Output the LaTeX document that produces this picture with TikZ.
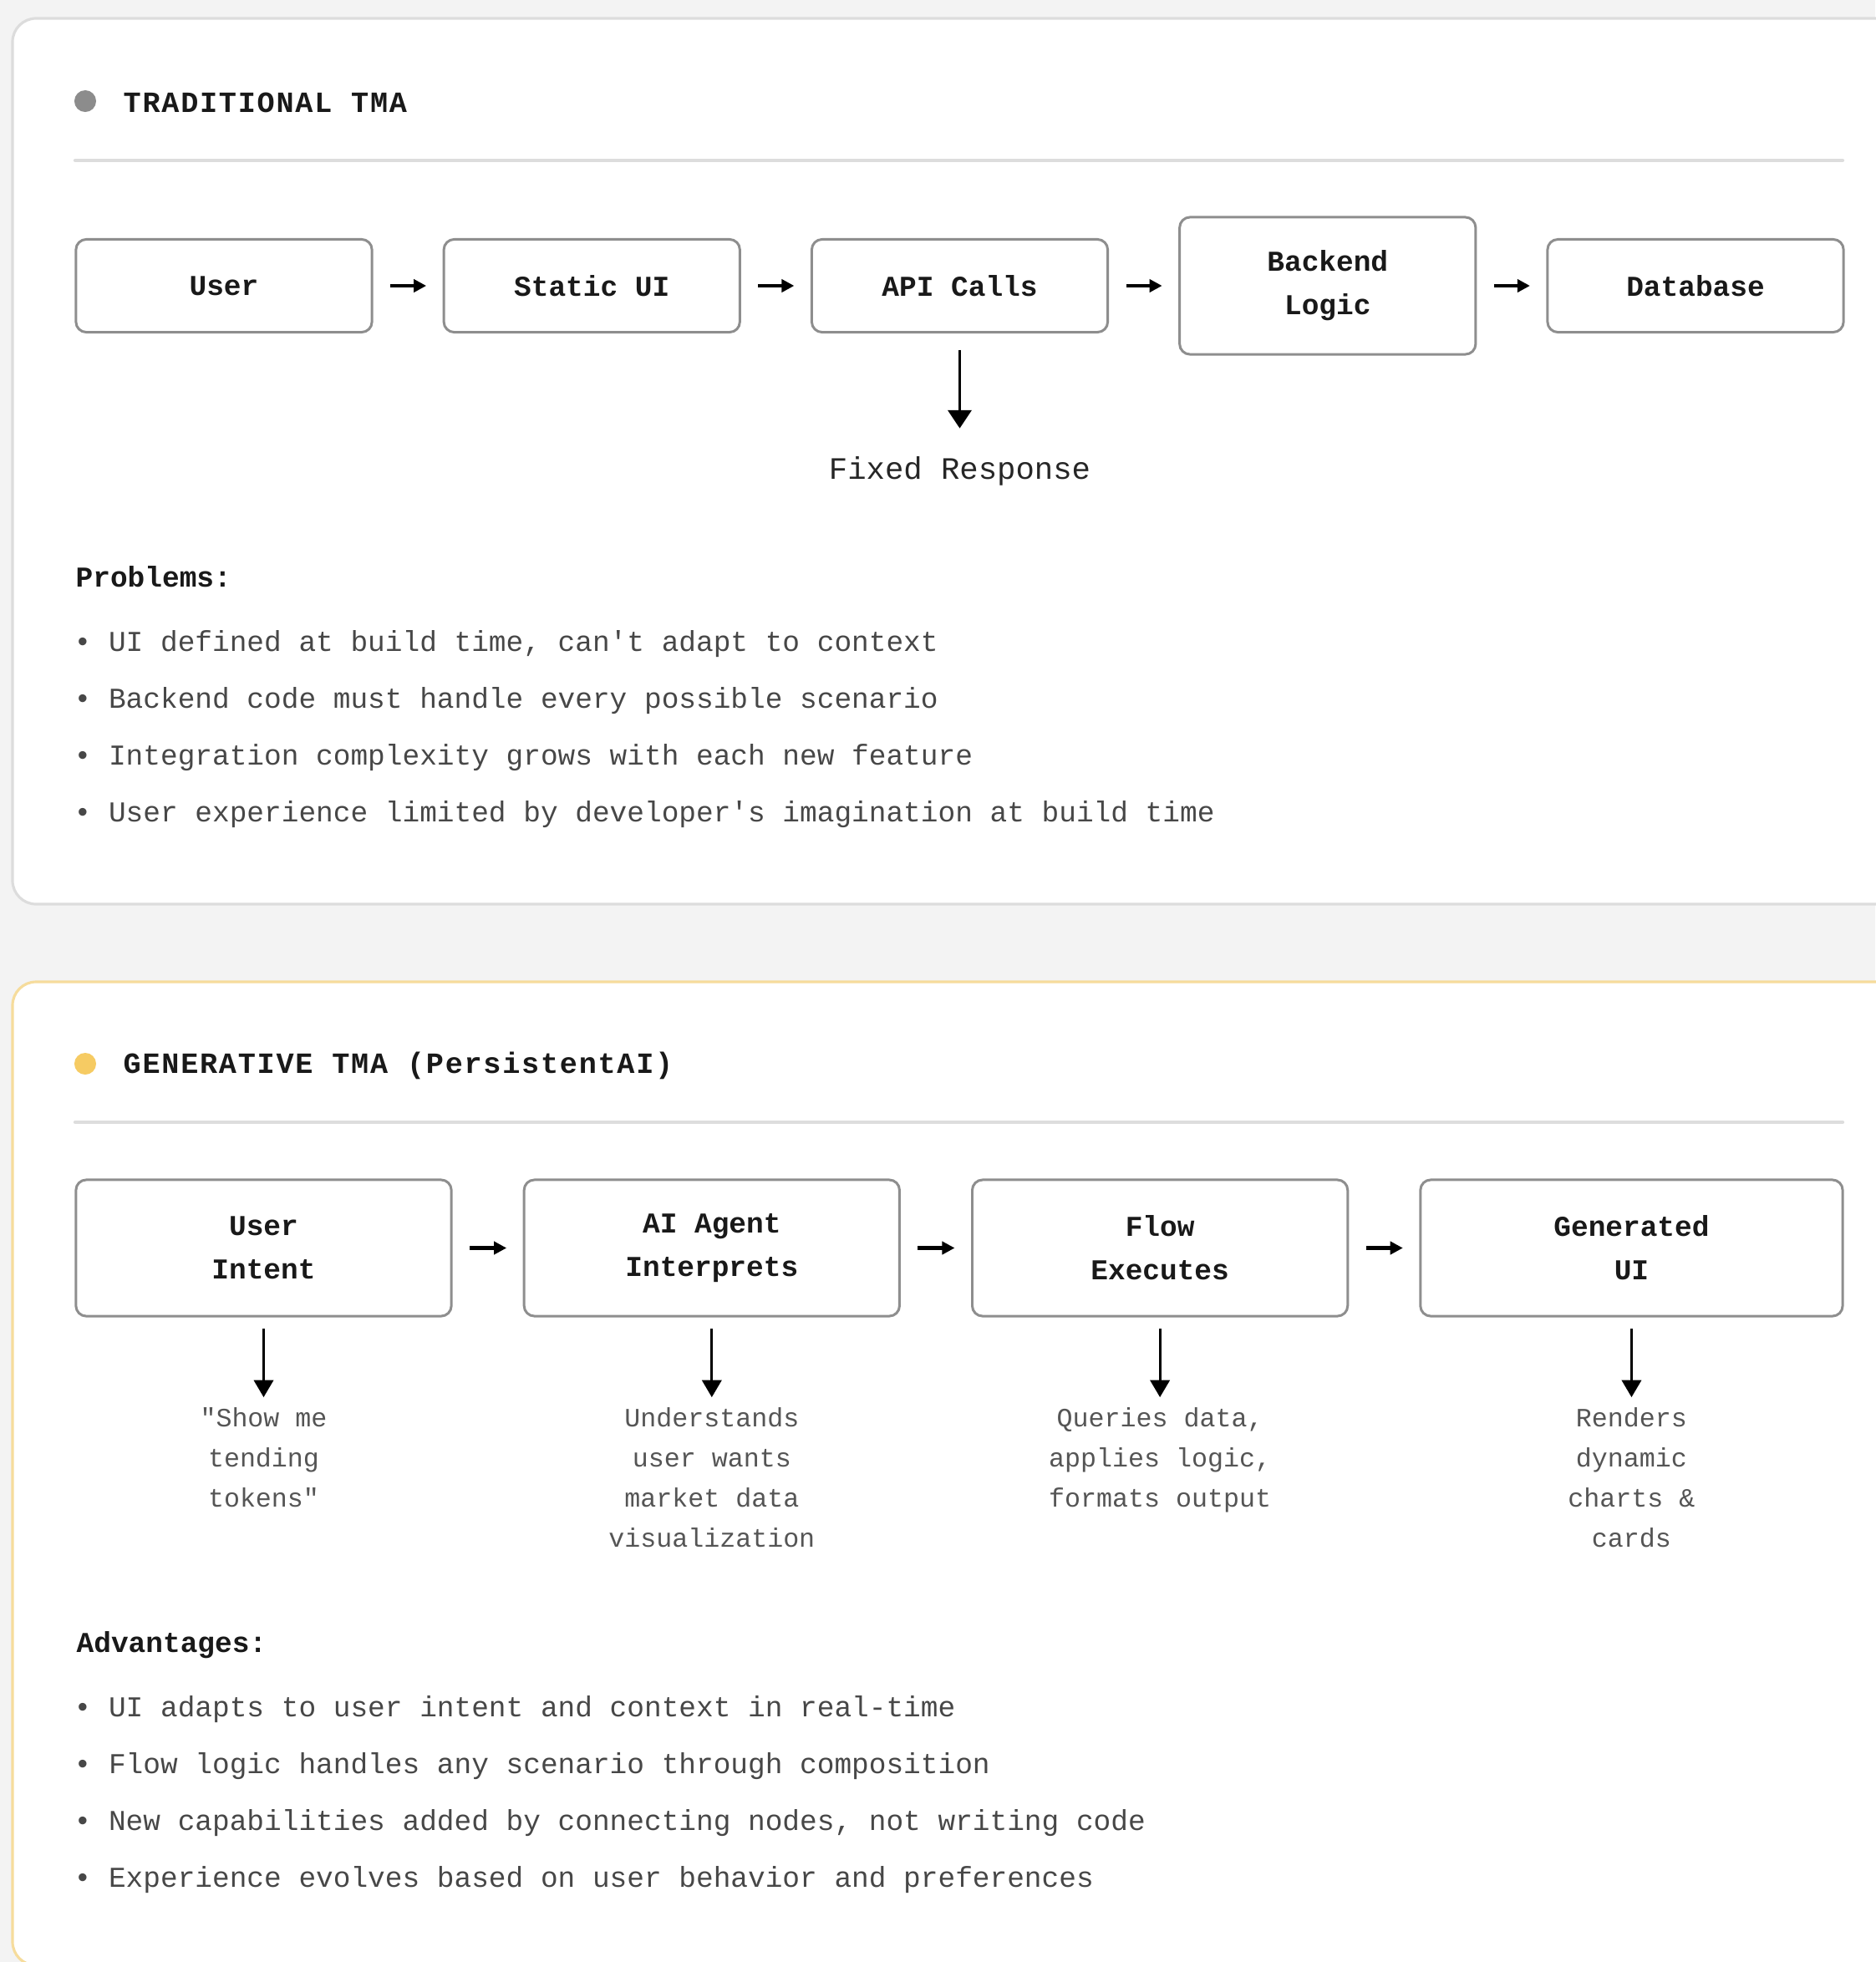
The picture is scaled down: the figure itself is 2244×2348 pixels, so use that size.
\documentclass[tikz,border=0pt]{standalone}
\usepackage{fontspec}
\setmonofont{Liberation Mono}
\newfontfamily\headfont[LetterSpace=5]{Liberation Mono}
\usepackage{tikz}
\usetikzlibrary{arrows.meta,positioning}
\definecolor{bggray}{HTML}{F3F3F3}
\definecolor{cardline}{HTML}{DCDCDC}
\definecolor{cardyellow}{HTML}{F6DC9C}
\definecolor{boxline}{HTML}{8E8E8E}
\definecolor{dotgray}{HTML}{8C8C8C}
\definecolor{dotyellow}{HTML}{F6CB63}
\definecolor{divline}{HTML}{DDDDDD}
\definecolor{bodygray}{HTML}{474747}
\definecolor{descgray}{HTML}{555555}

\begin{document}
\begin{tikzpicture}[x=0.01cm, y=-0.01cm, font=\ttfamily, line join=round, line cap=round,
		box/.style={draw=boxline, line width=0.85pt, rounded corners=3.5pt, fill=white, align=center,
			minimum width=3.54cm, minimum height=1.11cm, inner sep=0pt, outer sep=0pt, text=black!90,
			font=\ttfamily\bfseries\fontsize{9.8}{14.8}\selectfont},
		genbox/.style={box, minimum width=4.49cm, minimum height=1.63cm},
		card/.style={fill=white, line width=0.9pt, rounded corners=8pt},
		dot/.style={circle, inner sep=0pt, minimum size=0.26cm},
		title/.style={anchor=west, inner sep=0pt, text=black!90, font=\headfont\bfseries\fontsize{10}{12}\selectfont},
		head/.style={anchor=west, inner sep=0pt, text=black!90, font=\ttfamily\bfseries\fontsize{9.8}{12}\selectfont},
		bullet/.style={anchor=west, inner sep=0pt, text=bodygray, font=\ttfamily\fontsize{9.8}{12}\selectfont},
		desc/.style={align=center, inner sep=0pt, text=descgray, font=\ttfamily\fontsize{9}{13.66}\selectfont},
		divider/.style={draw=divline, line width=1.2pt},
		flow/.style={-{Triangle[length=4.3pt,width=4.3pt]}, line width=1.2pt, line cap=butt, shorten <=0.22cm, shorten >=0.21cm},
		drop/.style={-{Triangle[length=5.8pt,width=6.6pt]}, line width=0.85pt, line cap=butt, shorten <=0.15cm, shorten >=0.12cm}]
	\useasboundingbox (0,0) rectangle (2244,2348);
	\fill[bggray] (0,0) rectangle (2244,2348);

	% traditional
	\draw[card, draw=cardline] (15,22) rectangle (2300,1082);
	\node[dot, fill=dotgray] (tdot) at (102,121) {};
	\node[title] (ttitle) at (147,123) {TRADITIONAL TMA};
	\draw[divider] (90,192) -- (2205,192);

	\node[box] (user) at (268,342) {User};
	\node[box, right=0.86cm of user] (static) {Static UI};
	\node[box, right=0.86cm of static] (api) {API Calls};
	\node[box, right=0.86cm of api, minimum height=1.64cm] (backend) {Backend\\Logic};
	\node[box, right=0.86cm of backend] (database) {Database};
	\foreach \a/\b in {user/static, static/api, api/backend, backend/database}
		\draw[flow] (\a) -- (\b);

	\node[below=1.48cm of api, inner sep=0pt, text=black!85, font=\ttfamily\fontsize{10.6}{12}\selectfont] (fixed) {Fixed Response};
	\draw[drop, -{Triangle[length=6.2pt,width=8pt]}, line width=1pt, shorten <=0.21cm, shorten >=0.33cm] (api) -- (fixed);

	\node[head] (problems) at (90,690) {Problems:};
	\foreach \txt [count=\i] in {{UI defined at build time, can't adapt to context},
		{Backend code must handle every possible scenario},
		{Integration complexity grows with each new feature},
		{User experience limited by developer's imagination at build time}}
		\node[bullet] (prob\i) at (88,{703+68*\i}) {• \txt};

	% generative
	\draw[card, draw=cardyellow] (15,1175) rectangle (2300,2352);
	\node[dot, fill=dotyellow] (gdot) at (102,1273) {};
	\node[title] (gtitle) at (147,1275) {GENERATIVE TMA (PersistentAI)};
	\draw[divider] (90,1343) -- (2205,1343);

	\node[genbox] (intent) at (315.5,1493.5) {User\\Intent};
	\node[genbox, right=0.87cm of intent] (agent) {AI Agent\\Interprets};
	\node[genbox, right=0.87cm of agent] (flow) {Flow\\Executes};
	\node[genbox, right=0.87cm of flow, minimum width=5.05cm] (genui) {Generated\\UI};
	\foreach \a/\b in {intent/agent, agent/flow, flow/genui}
		\draw[flow] (\a) -- (\b);

	\node[desc, below=1.09cm of intent] (showme) {"Show me\\tending\\tokens"};
	\node[desc, below=1.09cm of agent] (understands) {Understands\\user wants\\market data\\visualization};
	\node[desc, below=1.09cm of flow] (queries) {Queries data,\\applies logic,\\formats output};
	\node[desc, below=1.09cm of genui] (renders) {Renders\\dynamic\\charts \&\\cards};
	\draw[drop] (intent) -- (showme);
	\draw[drop] (agent) -- (understands);
	\draw[drop] (flow) -- (queries);
	\draw[drop] (genui) -- (renders);

	\node[head] (advantages) at (91,1969) {Advantages:};
	\foreach \txt [count=\i] in {{UI adapts to user intent and context in real-time},
		{Flow logic handles any scenario through composition},
		{New capabilities added by connecting nodes, not writing code},
		{Experience evolves based on user behavior and preferences}}
		\node[bullet] (adv\i) at (88,{1978+68*\i}) {• \txt};
\end{tikzpicture}
\end{document}
